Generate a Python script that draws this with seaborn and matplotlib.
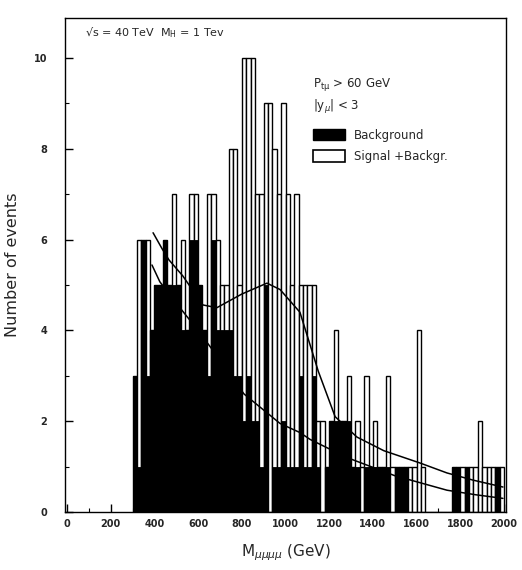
import numpy as np
import pandas as pd
import matplotlib
matplotlib.use("Agg")
import matplotlib.pyplot as plt
from matplotlib.patches import Patch
import seaborn as sns

# 20 GeV bins from 300 to 2000 GeV
bin_lo = list(range(300, 2000, 20))

# events per bin: background only, and signal + background
background = [
    3, 1, 6, 3, 4, 5, 5, 6, 5, 5,   # 300-480
    5, 4, 4, 6, 6, 5, 4, 3, 6, 4,   # 500-680
    4, 4, 4, 3, 3, 2, 3, 2, 2, 1,   # 700-880
    5, 0, 1, 1, 2, 1, 1, 1, 3, 1,   # 900-1080
    1, 3, 1, 0, 1, 2, 2, 2, 2, 2,   # 1100-1280
    1, 1, 0, 1, 1, 1, 1, 1, 1, 0,   # 1300-1480
    1, 1, 1, 0, 0, 0, 0, 0, 0, 0,   # 1500-1680
    0, 0, 0, 1, 1, 0, 1, 0, 0, 0,   # 1700-1880
    0, 0, 0, 1, 0,                  # 1900-1980
]
signal_plus_bkg = [
    3, 6, 6, 6, 4, 5, 5, 6, 5, 7,   # 300-480
    5, 6, 4, 7, 7, 5, 4, 7, 7, 6,   # 500-680
    5, 5, 8, 8, 5, 10, 10, 10, 7, 7,  # 700-880
    9, 9, 8, 7, 9, 7, 5, 7, 5, 5,   # 900-1080
    5, 5, 2, 2, 1, 2, 4, 2, 2, 3,   # 1100-1280
    1, 2, 1, 3, 1, 2, 1, 1, 3, 1,   # 1300-1480
    1, 1, 1, 1, 1, 4, 1, 0, 0, 0,   # 1500-1680
    0, 0, 0, 1, 1, 1, 1, 1, 1, 2,   # 1700-1880
    1, 1, 1, 1, 1,                  # 1900-1980
]

# fitted curves (mass in GeV, events per bin)
fit_total_m = [394, 435, 467, 530, 622, 686, 800, 915, 975, 1066, 1150, 1227,
               1327, 1450, 1615, 1739, 1860, 1995]
fit_total_n = [6.15, 5.8, 5.55, 5.2, 4.56, 4.5, 4.8, 5.04, 4.9, 4.4, 3.1, 2.1,
               1.65, 1.35, 1.08, 0.86, 0.7, 0.55]
fit_bkg_m = [389, 425, 500, 600, 700, 810, 975, 1066, 1112, 1281, 1500, 1739,
             1870, 1995]
fit_bkg_n = [5.44, 5.07, 4.6, 4.0, 3.35, 2.6, 1.95, 1.75, 1.6, 1.2, 0.8, 0.48,
             0.38, 0.3]

x_ticks = list(range(0, 2001, 200))
y_ticks = list(range(0, 11, 2))

bin_edges = bin_lo + [2000]
df = pd.DataFrame({
    "mass": [b + 10 for b in bin_lo],
    "bkg": background,
    "tot": signal_plus_bkg,
})

sns.set_theme(style="white")
plt.rcParams["font.family"] = ["DejaVu Sans"]

fig = plt.figure(figsize=(5.22, 5.70), dpi=100)
ax = fig.add_axes([65 / 522, 58 / 570, 441 / 522, 494 / 570])

sns.histplot(data=df, x="mass", weights="tot", bins=bin_edges, element="bars",
             stat="count", color="white", edgecolor="black", linewidth=1.0,
             alpha=1.0, ax=ax, zorder=2)
sns.histplot(data=df, x="mass", weights="bkg", bins=bin_edges, element="bars",
             stat="count", color="black", edgecolor="black", linewidth=0.6,
             alpha=1.0, ax=ax, zorder=3)

sns.lineplot(x=fit_total_m, y=fit_total_n, color="black", linewidth=1.1,
             ax=ax, zorder=4, sort=False)
sns.lineplot(x=fit_bkg_m, y=fit_bkg_n, color="black", linewidth=1.1,
             ax=ax, zorder=4, sort=False)

ax.set_xlim(-9, 2009)
ax.set_ylim(0, 10.88)
ax.set_xticks(x_ticks)
ax.set_xticklabels([str(t) for t in x_ticks])
ax.set_yticks(y_ticks)
ax.set_yticklabels([str(t) for t in y_ticks])
ax.set_xticks(range(100, 2000, 200), minor=True)
ax.set_yticks(range(1, 11, 2), minor=True)
ax.tick_params(axis="both", which="major", direction="in", length=6, width=1.0,
               labelsize=7, color="black", pad=9)
ax.tick_params(axis="both", which="minor", direction="in", length=3, width=0.8,
               color="black")
ax.tick_params(axis="y", pad=13)
ax.tick_params(axis="x", pad=5)
ax.tick_params(left=True, bottom=True, which="both")
for lab in ax.get_xticklabels() + ax.get_yticklabels():
    lab.set_fontweight("bold")
for side in ["left", "right", "top", "bottom"]:
    ax.spines[side].set_visible(True)
    ax.spines[side].set_color("black")
    ax.spines[side].set_linewidth(1.0)

ax.set_xlabel(r"M$_{\mu\mu\mu\mu}$ (GeV)", fontsize=11, labelpad=10)
ax.set_ylabel("Number of events", fontsize=11.5, labelpad=10)

ax.text(0.045, 0.97, "\u221As = 40 TeV  M$_{\\mathregular{H}}$ = 1 Tev",
        transform=ax.transAxes, fontsize=8, va="center", ha="left")
ax.text(0.562, 0.866, r"P$_{\mathregular{t\mu}}$ > 60 GeV",
        transform=ax.transAxes, fontsize=8.5, va="center", ha="left")
ax.text(0.562, 0.82, r"|y$_{\mu}$| < 3",
        transform=ax.transAxes, fontsize=8.5, va="center", ha="left")

handles = [Patch(facecolor="black", edgecolor="black", label="Background"),
           Patch(facecolor="white", edgecolor="black", linewidth=1.2,
                 label="Signal +Backgr.")]
ax.legend(handles=handles, loc="upper left", bbox_to_anchor=(0.562, 0.776),
          frameon=False, fontsize=8.5, handlelength=2.7, handleheight=1.1,
          handletextpad=0.8, labelspacing=0.7, borderpad=0, borderaxespad=0)

fig.savefig("out.png", dpi=100, facecolor="white")
